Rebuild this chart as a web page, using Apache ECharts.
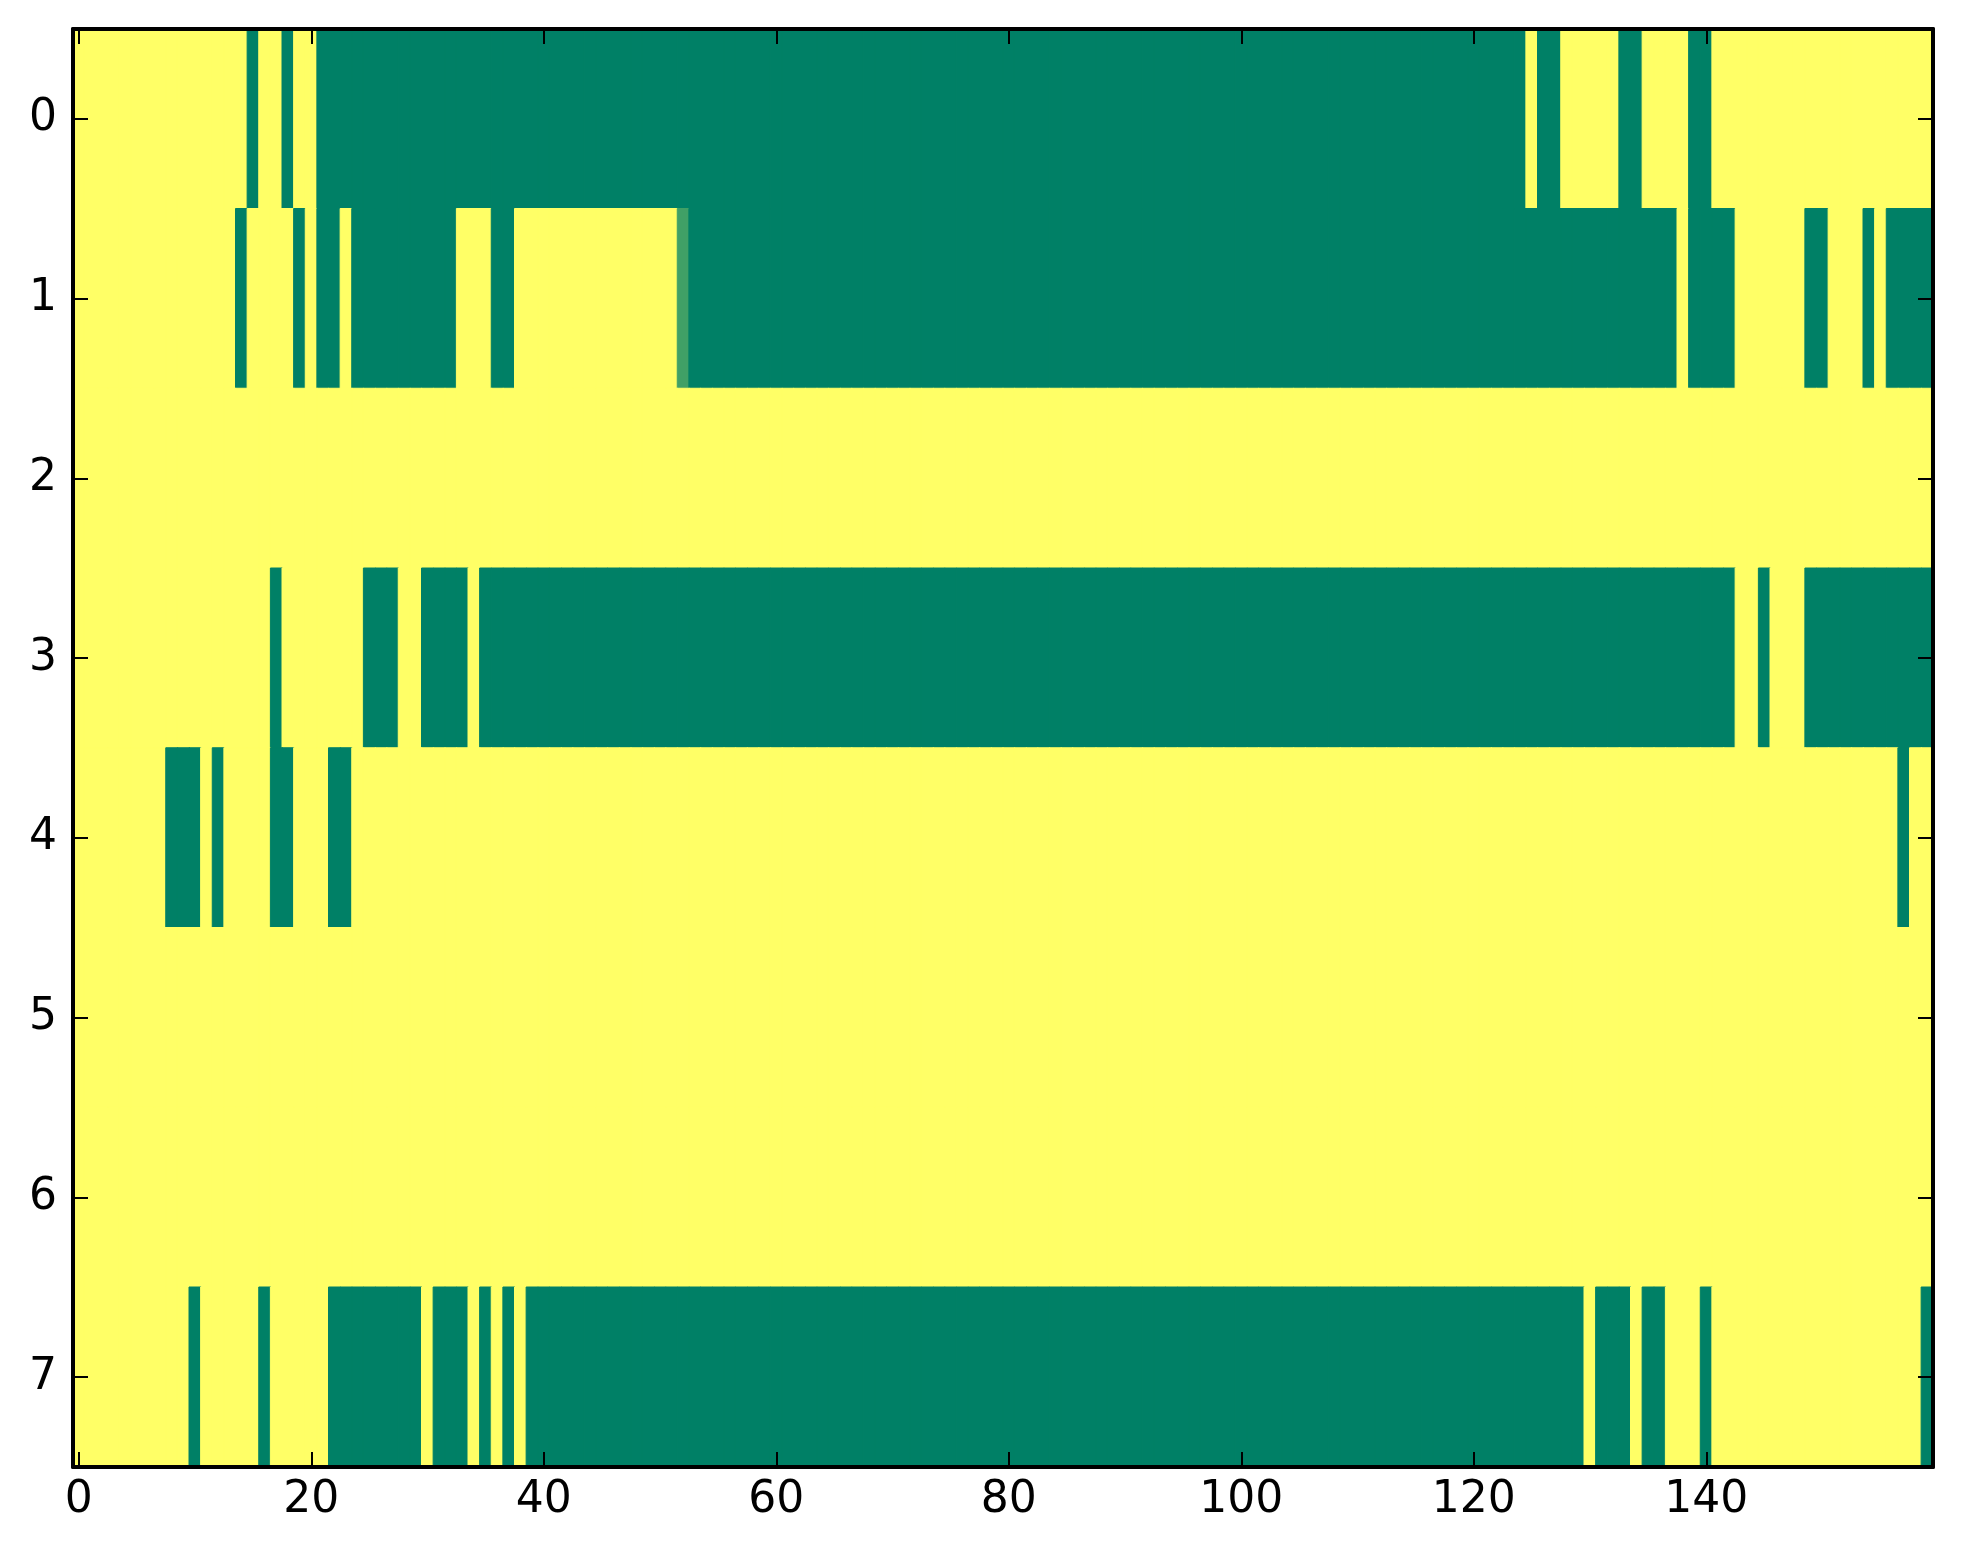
<!DOCTYPE html>
<html>
<head>
<meta charset="utf-8">
<script src="https://cdn.jsdelivr.net/npm/echarts@6/dist/echarts.min.js"></script>
<style>
html,body{margin:0;padding:0;background:#fff;}
#chart{width:1963px;height:1564px;}
</style>
</head>
<body>
<div id="chart"></div>
<script>
// Each row: 160 cells, digit d -> value d/4 (0 = green, 4 = yellow). Spaces only group 10 cells.
const row0 = "4444444444 4444404404 4000000000 0000000000 0000000000 0000000000 0000000000 0000000000 0000000000 0000000000 0000000000 0000000000 0000040044 4440044440 0444444444 4444444444";
const row1 = "4444444444 4444044440 4004000000 0004440044 4444444444 4410000000 0000000000 0000000000 0000000000 0000000000 0000000000 0000000000 0000000000 0000000040 0004444440 0444040000";
const row2 = "4444444444 4444444444 4444444444 4444444444 4444444444 4444444444 4444444444 4444444444 4444444444 4444444444 4444444444 4444444444 4444444444 4444444444 4444444444 4444444444";
const row3 = "4444444444 4444444044 4444400044 0000400000 0000000000 0000000000 0000000000 0000000000 0000000000 0000000000 0000000000 0000000000 0000000000 0000000000 0004404440 0000000000";
const row4 = "4444444400 0404444004 4400444444 4444444444 4444444444 4444444444 4444444444 4444444444 4444444444 4444444444 4444444444 4444444444 4444444444 4444444444 4444444444 4444444044";
const row5 = "4444444444 4444444444 4444444444 4444444444 4444444444 4444444444 4444444444 4444444444 4444444444 4444444444 4444444444 4444444444 4444444444 4444444444 4444444444 4444444444";
const row6 = "4444444444 4444444444 4444444444 4444444444 4444444444 4444444444 4444444444 4444444444 4444444444 4444444444 4444444444 4444444444 4444444444 4444444444 4444444444 4444444444";
const row7 = "4444444444 0444440444 4400000000 4000404040 0000000000 0000000000 0000000000 0000000000 0000000000 0000000000 0000000000 0000000000 0000000000 4000400444 0444444444 4444444440";
const rows = [row0, row1, row2, row3, row4, row5, row6, row7];

const xCategories = Array.from({length: 160}, (_, i) => String(i));
const yCategories = ["0", "1", "2", "3", "4", "5", "6", "7"];
const xTickEvery = 20;

// matplotlib "summer" colormap endpoints
const cLow = [0, 128, 102];
const cHigh = [255, 255, 102];
function cmap(v) {
  const c = cLow.map((a, i) => Math.round(a + (cHigh[i] - a) * v));
  return "rgb(" + c.join(",") + ")";
}

const data = [];
rows.forEach((s, r) => {
  const cells = s.replace(/\s+/g, "");
  for (let c = 0; c < cells.length; c++) {
    const v = Number(cells[c]) / 4;
    const col = cmap(v);
    data.push({value: [c, r, v], itemStyle: {color: col, borderColor: col, borderWidth: 1}});
  }
});

const font = "DejaVu Sans";
const axisLineStyle = {color: "#000", width: 4};
const tickLine = {color: "#000", width: 2};
const xTickFn = (idx) => idx % xTickEvery === 0;

const chart = echarts.init(document.getElementById("chart"), null, {renderer: "canvas"});
chart.setOption({
  animation: false,
  backgroundColor: "#fff",
  grid: {left: 73, right: 30, top: 29, bottom: 97, containLabel: false},
  xAxis: [
    {
      type: "category", data: xCategories, position: "bottom", z: 10,
      axisLine: {show: true, lineStyle: axisLineStyle},
      axisTick: {show: true, inside: true, length: 15, alignWithLabel: true, interval: xTickFn, lineStyle: tickLine},
      axisLabel: {show: true, interval: xTickFn, margin: 12, color: "#000", fontSize: 44, fontFamily: font},
      splitLine: {show: false}
    },
    {
      type: "category", data: xCategories, position: "top", z: 10,
      axisLine: {show: true, lineStyle: axisLineStyle},
      axisTick: {show: true, inside: true, length: 15, alignWithLabel: true, interval: xTickFn, lineStyle: tickLine},
      axisLabel: {show: false},
      splitLine: {show: false}
    }
  ],
  yAxis: [
    {
      type: "category", data: yCategories, inverse: true, position: "left", z: 10,
      axisLine: {show: true, lineStyle: axisLineStyle},
      axisTick: {show: true, inside: true, length: 15, alignWithLabel: true, interval: 0, lineStyle: tickLine},
      axisLabel: {show: true, interval: 0, margin: 16, color: "#000", fontSize: 44, fontFamily: font},
      splitLine: {show: false}
    },
    {
      type: "category", data: yCategories, inverse: true, position: "right", z: 10,
      axisLine: {show: true, lineStyle: axisLineStyle},
      axisTick: {show: true, inside: true, length: 15, alignWithLabel: true, interval: 0, lineStyle: tickLine},
      axisLabel: {show: false},
      splitLine: {show: false}
    }
  ],
  series: [{
    type: "heatmap",
    xAxisIndex: 0, yAxisIndex: 0,
    data: data,
    progressive: 0,
    emphasis: {disabled: true},
    label: {show: false}
  }]
});
</script>
</body>
</html>
